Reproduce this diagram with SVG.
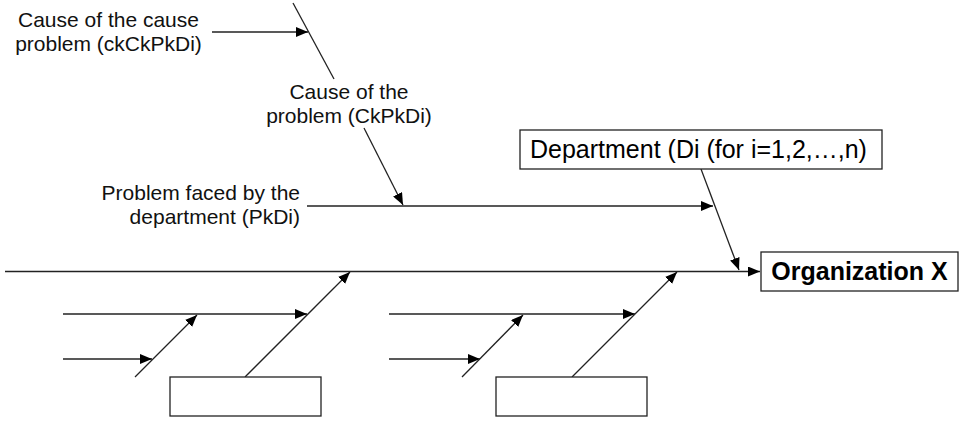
<svg xmlns="http://www.w3.org/2000/svg" width="960" height="421" viewBox="0 0 960 421">
<defs>
<marker id="ah" markerUnits="userSpaceOnUse" markerWidth="12" markerHeight="10" refX="12" refY="5" orient="auto">
<path d="M0,0 L12,5 L0,10 z" fill="#000"/>
</marker>
<style>
.ln{stroke:#222;stroke-width:1.3;fill:none}
.ar{marker-end:url(#ah)}
.bx{fill:#fff;stroke:#222;stroke-width:1.3}
.lb{font-family:"Liberation Sans",Arial,sans-serif;font-size:21px;fill:#111}
.big{font-family:"Liberation Sans",Arial,sans-serif;font-size:25px;fill:#000}
</style>
</defs>
<rect width="960" height="421" fill="#fff"/>
<g id="connectors">
<line class="ln ar" x1="5" y1="271.5" x2="760" y2="271.5"/>
<line class="ln ar" x1="701" y1="169" x2="739" y2="270"/>
<line class="ln ar" x1="307" y1="206" x2="713" y2="206"/>
<line class="ln ar" x1="364" y1="128" x2="403" y2="205"/>
<line class="ln" x1="293" y1="3" x2="334" y2="79"/>
<line class="ln ar" x1="212" y1="32" x2="308" y2="32"/>
<line class="ln ar" x1="63" y1="314" x2="307" y2="314"/>
<line class="ln ar" x1="63" y1="359" x2="152" y2="359"/>
<line class="ln ar" x1="135" y1="377" x2="197" y2="315"/>
<line class="ln ar" x1="245" y1="377" x2="350" y2="272"/>
<line class="ln ar" x1="389" y1="314" x2="635" y2="314"/>
<line class="ln ar" x1="389" y1="359" x2="480" y2="359"/>
<line class="ln ar" x1="462" y1="377" x2="523" y2="315"/>
<line class="ln ar" x1="572" y1="377" x2="677" y2="272"/>
</g>
<g id="label-cause-of-cause">
<text class="lb" x="108.5" y="27" text-anchor="middle">Cause of the cause</text>
<text class="lb" x="108.5" y="51" text-anchor="middle">problem (ckCkPkDi)</text>
</g>
<g id="label-cause-of-problem">
<text class="lb" x="349" y="99" text-anchor="middle">Cause of the</text>
<text class="lb" x="349" y="123" text-anchor="middle">problem (CkPkDi)</text>
</g>
<g id="label-problem">
<text class="lb" x="300" y="200" text-anchor="end">Problem faced by the</text>
<text class="lb" x="300" y="224" text-anchor="end">department (PkDi)</text>
</g>
<g id="department">
<rect class="bx" x="520" y="130" width="362" height="39"/>
<text class="big" x="530" y="158">Department (Di (for i=1,2,…,n)</text>
</g>
<g id="organization">
<rect class="bx" x="761" y="252" width="197" height="39"/>
<text class="big" x="859.5" y="280" text-anchor="middle" font-weight="bold">Organization X</text>
</g>
<g id="box1">
<rect class="bx" x="170" y="377" width="151" height="39"/>
</g>
<g id="box2">
<rect class="bx" x="496" y="377" width="151" height="39"/>
</g>
</svg>
